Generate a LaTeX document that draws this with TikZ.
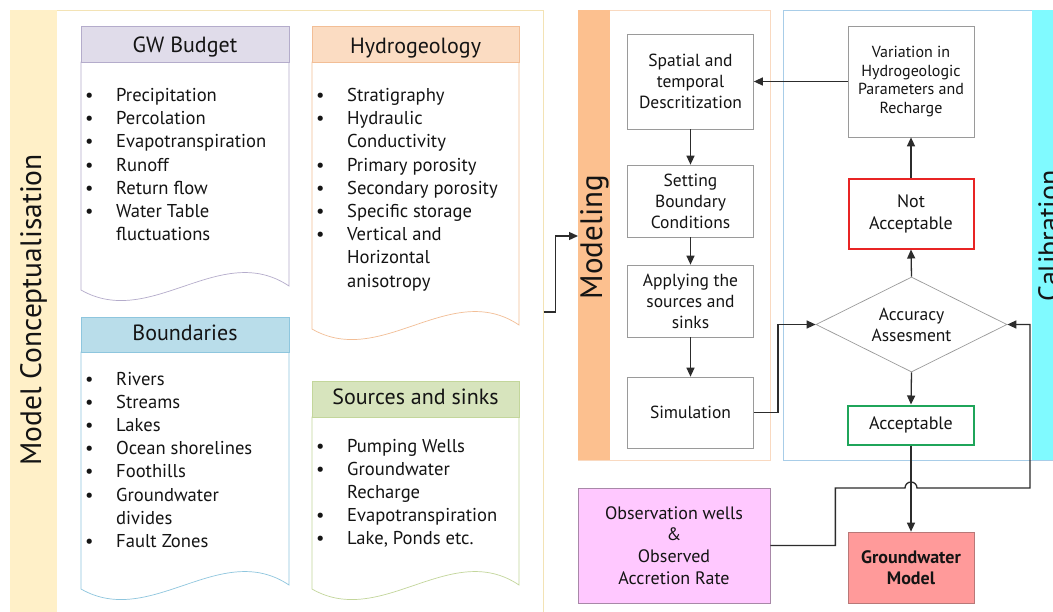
\documentclass[tikz,border=0pt]{standalone}
\usepackage{fontspec}
\setmainfont{PT Sans}
\usetikzlibrary{arrows.meta,shapes.geometric}

\definecolor{ink}{HTML}{141414}
\definecolor{conceptband}{HTML}{FFF0C8}
\definecolor{conceptline}{HTML}{F3E3B5}
\definecolor{modelband}{HTML}{FCC08F}
\definecolor{modelline}{HTML}{F9D9C0}
\definecolor{calibband}{HTML}{80FAFF}
\definecolor{calibline}{HTML}{A8CDE8}
\definecolor{budgetfill}{HTML}{E0DCEA}
\definecolor{budgetline}{HTML}{B4ACCB}
\definecolor{hydrofill}{HTML}{FBDCC2}
\definecolor{hydroline}{HTML}{F2BE96}
\definecolor{boundfill}{HTML}{B9DDEA}
\definecolor{boundline}{HTML}{8EC6DE}
\definecolor{srcfill}{HTML}{D7E4BD}
\definecolor{srcline}{HTML}{C3D69B}
\definecolor{boxline}{HTML}{9A9A9A}
\definecolor{badred}{HTML}{E82424}
\definecolor{goodgreen}{HTML}{1FA55A}
\definecolor{gwfill}{HTML}{FF9A9A}
\definecolor{gwline}{HTML}{B87878}
\definecolor{obsfill}{HTML}{FFC8FF}
\definecolor{obsline}{HTML}{A888A8}

% bullet list: one row per printed line, empty bullet cell for continuation lines
\newcommand{\blist}[1]{\fontsize{18.6}{23.2}\selectfont
  \begin{tabular}[t]{@{}p{31pt}@{}l@{}}#1\end{tabular}}
\newcommand{\bi}{\textbullet &}

% card with header strip and wavy bottom edge: x1, y1 (top), x2, header bottom, wave level
\newcommand{\card}[7]{%
  \draw[draw=#7, line width=0.7pt, fill=white]
    (#1,#4) -- (#1,#5+4) .. controls (#1+0.335*#3-0.335*#1,#5+44) and (#1+0.67*#3-0.67*#1,#5-46) .. (#3,#5)
    -- (#3,#4) -- cycle;
  \draw[draw=#7, line width=0.7pt, fill=#6] (#1,#2) rectangle (#3,#4);
}

\tikzset{
  panel/.style={anchor=north west, inner sep=0pt, line width=0.6pt},
  stepbox/.style={draw=boxline, line width=0.7pt, fill=white, minimum width=126pt,
    align=center, text=ink, inner sep=0pt, font=\fontsize{17.5}{21}\selectfont},
  arr/.style={draw=ink!90, line width=1.3pt, -{Triangle[length=9pt,width=8pt]}},
  title/.style={text=ink, anchor=base, inner sep=0pt, font=\fontsize{22}{26}\selectfont},
  listnode/.style={text=ink, anchor=base west, inner sep=0pt},
}

\begin{document}
\begin{tikzpicture}[x=1pt, y=-1pt]
\useasboundingbox (0,0) rectangle (1053,611);
\fill[white] (0,0) rectangle (1053,611);

\begin{scope}
\clip (0,0) rectangle (1053,611);

% ---------- conceptualisation panel ----------
\node[panel, draw=conceptline, minimum width=533pt, minimum height=620pt] (concept) at (10,10) {};
\fill[conceptband] (10.3,10.3) rectangle (57,620);
\node[rotate=90, text=ink, inner sep=0pt, font=\fontsize{29.5}{32}\selectfont, anchor=base]
  (concepttitle) at (41,310) {Model Conceptualisation};

% GW budget
\card{81}{26}{289}{62}{286}{budgetfill}{budgetline}
\node[title] (budgett) at (185,52) {GW Budget};
\node[listnode] (budgetl) at (85,101.5) {\blist{%
  \bi Precipitation\\ \bi Percolation\\ \bi Evapotranspiration\\ \bi Runoff\\
  \bi Return flow\\ \bi Water Table\\ & fluctuations}};

% Hydrogeology
\card{312}{26}{519}{62}{325}{hydrofill}{hydroline}
\node[title] (hydrot) at (415.5,53) {Hydrogeology};
\node[listnode] (hydrol) at (316,101.5) {\blist{%
  \bi Stratigraphy\\ \bi Hydraulic\\ & Conductivity\\ \bi Primary porosity\\
  \bi Secondary porosity\\ \bi Specific storage\\ \bi Vertical and\\ & Horizontal\\ & anisotropy}};

% Boundaries
\card{81}{317}{289}{352}{585}{boundfill}{boundline}
\node[title] (boundt) at (185,340) {Boundaries};
\node[listnode] (boundl) at (85,385) {\blist{%
  \bi Rivers\\ \bi Streams\\ \bi Lakes\\ \bi Ocean shorelines\\ \bi Foothills\\
  \bi Groundwater\\ & divides\\ \bi Fault Zones}};

% Sources and sinks
\card{312}{381}{519}{417}{585}{srcfill}{srcline}
\node[title] (srct) at (415.5,404) {Sources and sinks};
\node[listnode] (srcl) at (316,452) {\blist{%
  \bi Pumping Wells\\ \bi Groundwater\\ & Recharge\\ \bi Evapotranspiration\\ \bi Lake, Ponds etc.}};

% ---------- modeling panel ----------
\node[panel, draw=modelline, minimum width=192pt, minimum height=450pt] (model) at (578,10) {};
\fill[modelband] (578.3,10.3) rectangle (610,459.7);
\node[rotate=90, text=ink, inner sep=0pt, font=\fontsize{31}{34}\selectfont, anchor=base]
  (modeltitle) at (602,237) {Modeling};

\node[stepbox, minimum height=95pt] (spat) at (690.5,81.5) {Spatial and\\temporal\\Descritization};
\node[stepbox, minimum height=72pt] (bc) at (690.5,201) {Setting\\Boundary\\Conditions};
\node[stepbox, minimum height=72pt] (src) at (690.5,301) {Applying the\\sources and\\sinks};
\node[stepbox, minimum height=71pt] (sim) at (690.5,412.5) {Simulation};

% ---------- calibration panel ----------
\node[panel, draw=calibline, minimum width=290pt, minimum height=450pt] (calib) at (783,10) {};
\fill[calibband] (1032,10.3) rectangle (1060,459.7);
\node[rotate=90, text=ink, inner sep=0pt, font=\fontsize{28}{30}\selectfont, anchor=base]
  (calibtitle) at (1058,236) {Calibration};

\node[stepbox, minimum height=111pt, font=\fontsize{16}{18.7}\selectfont] (var) at (911,81.5)
  {Variation in\\Hydrogeologic\\Parameters and\\Recharge};
\node[stepbox, draw=badred, line width=2pt, minimum height=70pt, minimum width=125pt,
  font=\fontsize{18}{22}\selectfont] (notok) at (911,213.5) {Not\\Acceptable};
\node[shape=diamond, draw=boxline, line width=0.7pt, fill=white, inner sep=0pt, aspect=2,
  minimum width=191pt, minimum height=95pt, align=center, text=ink,
  font=\fontsize{17.5}{21}\selectfont] (acc) at (911.5,324.5) {Accuracy\\Assesment};
\node[stepbox, draw=goodgreen, line width=2pt, minimum height=39pt, minimum width=126pt,
  font=\fontsize{18}{22}\selectfont] (ok) at (911,425) {Acceptable};

% ---------- data and result ----------
\node[stepbox, draw=obsline, fill=obsfill, minimum width=192pt, minimum height=115pt,
  font=\fontsize{18}{21.7}\selectfont] (obs) at (674,545.5)
  {Observation wells\\\&\\Observed\\Accretion Rate};
\node[stepbox, draw=gwline, fill=gwfill, minimum height=71pt,
  font=\bfseries\fontsize{18}{21}\selectfont] (gwm) at (911,567.5) {Groundwater\\Model};

% ---------- connectors ----------
\draw[arr] (concept.east |- 0,312) -- ++(12,0) |- (model.west |- 0,236);
\draw[arr] (spat) -- (bc);
\draw[arr] (bc) -- (src);
\draw[arr] (src) -- (sim);
\draw[arr] (sim.east) -- ++(24,0) |- (acc.west);
\draw[arr] (acc.north) -- (notok.south);
\draw[arr] (notok.north) -- (var.south);
\draw[arr] (var.west) -- (spat.east);
\draw[arr] (acc.south) -- (ok.north);
\draw[arr] (ok.south) -- (gwm.north);
\draw[arr] (obs.east) -- ++(65,0) |- (905,488) arc[start angle=180, end angle=0, radius=6pt]
  -- (1030,488) |- (acc.east);
\end{scope}
\end{tikzpicture}
\end{document}
